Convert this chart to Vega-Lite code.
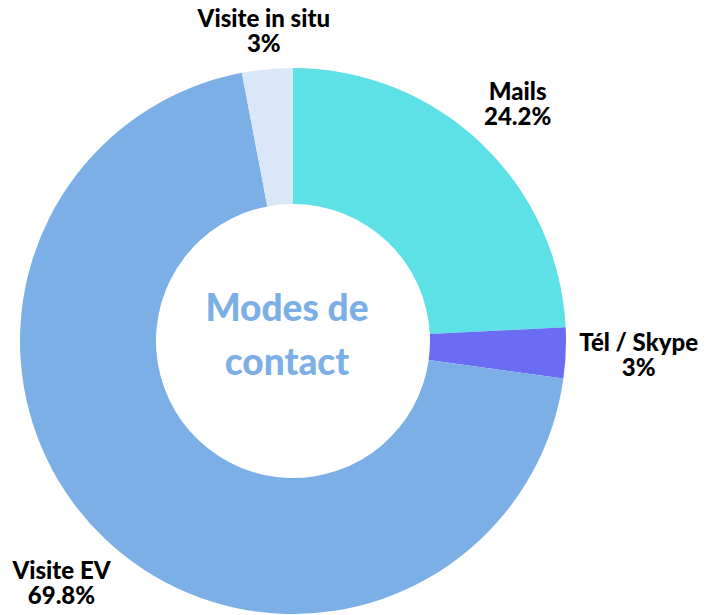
{
  "$schema": "https://vega.github.io/schema/vega-lite/v6.json",
  "width": 586,
  "height": 548,
  "autosize": {"type": "none"},
  "padding": {"left": 0, "top": 67, "right": 128, "bottom": 0},
  "background": "white",
  "view": {"stroke": null},
  "data": {
    "values": [
      {"k": 1, "cat": "Mails", "value": 24.2},
      {"k": 2, "cat": "Tél / Skype", "value": 3},
      {"k": 3, "cat": "Visite EV", "value": 69.8},
      {"k": 4, "cat": "Visite in situ", "value": 3}
    ]
  },
  "transform": [
    {"stack": "value", "groupby": [], "sort": [{"field": "k", "order": "ascending"}], "as": ["v0", "v1"]},
    {"calculate": "(datum.v0 + datum.v1) / 2", "as": "mid"},
    {"calculate": "[datum.cat, datum.value + '%']", "as": "lines"}
  ],
  "layer": [
    {
      "mark": {"type": "arc", "outerRadius": 273, "innerRadius": 137},
      "encoding": {
        "theta": {"field": "v0", "type": "quantitative", "scale": {"domain": [0, 100]}},
        "theta2": {"field": "v1"},
        "color": {
          "field": "cat",
          "type": "nominal",
          "legend": null,
          "scale": {
            "domain": ["Mails", "Tél / Skype", "Visite EV", "Visite in situ"],
            "range": ["#5DE1E6", "#6B6CF4", "#7BAFE6", "#DAE7F8"]
          }
        }
      }
    },
    {
      "transform": [{"filter": "datum.cat === 'Visite in situ'"}],
      "mark": {"type": "text", "font": "Lato", "fontWeight": 900, "fontSize": 24, "lineHeight": 25, "align": "center", "baseline": "middle", "color": "black", "dy": -12},
      "encoding": {
        "theta": {"field": "mid", "type": "quantitative", "stack": null, "scale": {"domain": [0, 100]}},
        "radius": {"value": 310},
        "text": {"field": "lines"}
      }
    },
    {
      "transform": [{"filter": "datum.cat === 'Mails'"}],
      "mark": {"type": "text", "font": "Lato", "fontWeight": 900, "fontSize": 24, "lineHeight": 25, "align": "center", "baseline": "middle", "color": "black", "dy": -12},
      "encoding": {
        "theta": {"field": "mid", "type": "quantitative", "stack": null, "scale": {"domain": [0, 100]}},
        "radius": {"value": 326},
        "text": {"field": "lines"}
      }
    },
    {
      "transform": [{"filter": "datum.cat === 'Tél / Skype'"}],
      "mark": {"type": "text", "font": "Lato", "fontWeight": 900, "fontSize": 24, "lineHeight": 25, "align": "center", "baseline": "middle", "color": "black", "dy": -12},
      "encoding": {
        "theta": {"field": "mid", "type": "quantitative", "stack": null, "scale": {"domain": [0, 100]}},
        "radius": {"value": 346},
        "text": {"field": "lines"}
      }
    },
    {
      "transform": [{"filter": "datum.cat === 'Visite EV'"}],
      "mark": {"type": "text", "font": "Lato", "fontWeight": 900, "fontSize": 24, "lineHeight": 25, "align": "center", "baseline": "middle", "color": "black", "dy": -12},
      "encoding": {
        "theta": {"field": "mid", "type": "quantitative", "stack": null, "scale": {"domain": [0, 100]}},
        "radius": {"value": 336},
        "text": {"field": "lines"}
      }
    },
    {
      "transform": [{"filter": "datum.k === 1"}],
      "mark": {"type": "text", "font": "Lato", "fontWeight": 900, "fontSize": 37, "lineHeight": 54, "align": "center", "baseline": "middle", "color": "#7BAFE6", "dx": -6, "dy": -31},
      "encoding": {
        "text": {"value": ["Modes de", "contact"]}
      }
    }
  ]
}
